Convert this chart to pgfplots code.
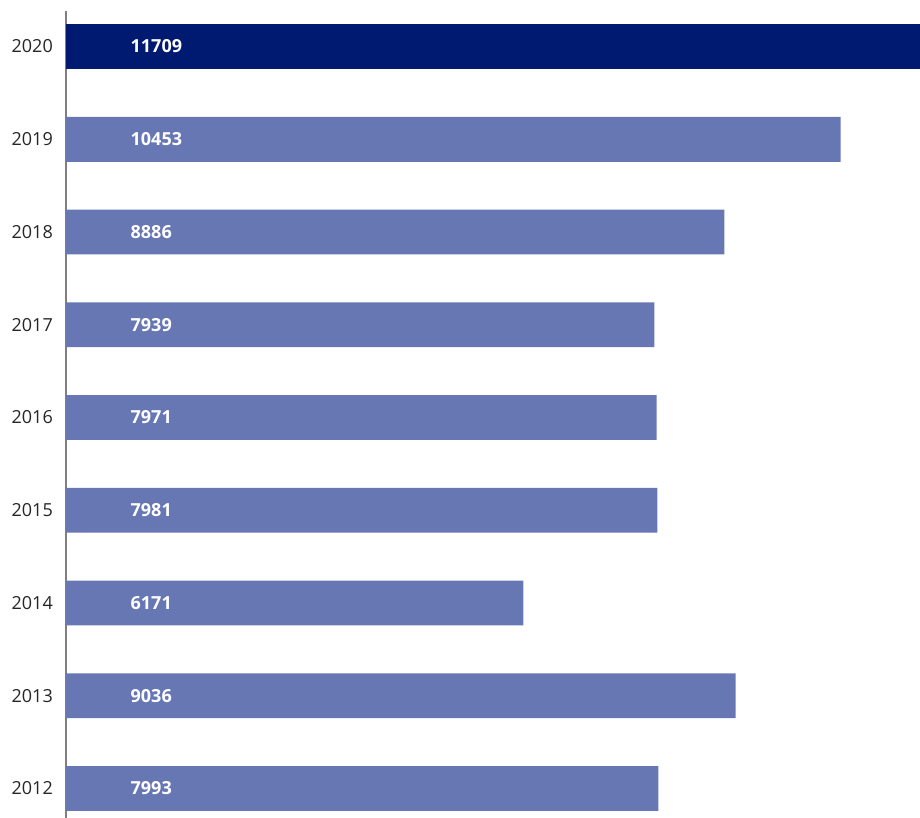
\documentclass[border=0pt]{standalone}
\usepackage{fontspec}
\setmainfont{Open Sans}
\usepackage{pgfplots}
\pgfplotsset{compat=1.18}
\definecolor{navy}{HTML}{001A72}
\definecolor{lightbar}{HTML}{6777B4}
\definecolor{axisgray}{HTML}{808080}
\begin{document}
\fontsize{18}{21}\selectfont
\begin{tikzpicture}
\begin{axis}[
  scale only axis, width=854pt, height=807pt,
  xbar, xmin=0, xmax=11525, ymin=-0.318, ymax=8.383,
  axis x line=none, axis y line*=left,
  axis line style={draw=axisgray, line width=1.3pt},
  ytick={0,1,2,3,4,5,6,7,8},
  yticklabels={2012,2013,2014,2015,2016,2017,2018,2019,2020},
  ytick style={draw=none},
  major tick length=0pt,
  yticklabel style={font=\fontsize{18}{21}\selectfont, text=black!85, xshift=-7pt},
  bar width=0.485,
]
\addplot[fill=lightbar, draw=none, bar shift=0pt] coordinates {
  (7993,0) (9036,1) (6171,2) (7981,3) (7971,4) (7939,5) (8886,6) (10453,7)};
\addplot[fill=navy, draw=none, bar shift=0pt] coordinates {(11709,8)};
\addplot[draw=none, fill=none, bar shift=0pt, forget plot,
  nodes near coords, point meta=explicit symbolic,
  nodes near coords style={anchor=west, inner sep=0pt, text=white, font=\fontsize{18}{21}\selectfont\bfseries}]
  table[x=x, y=y, meta=label] {
x y label
870 0 7993
870 1 9036
870 2 6171
870 3 7981
870 4 7971
870 5 7939
870 6 8886
870 7 10453
870 8 11709
};
\end{axis}
\pgfresetboundingbox
\path[use as bounding box] ([xshift=-66pt]current axis.south west) rectangle ([yshift=11pt]current axis.north east);
\end{tikzpicture}
\end{document}
